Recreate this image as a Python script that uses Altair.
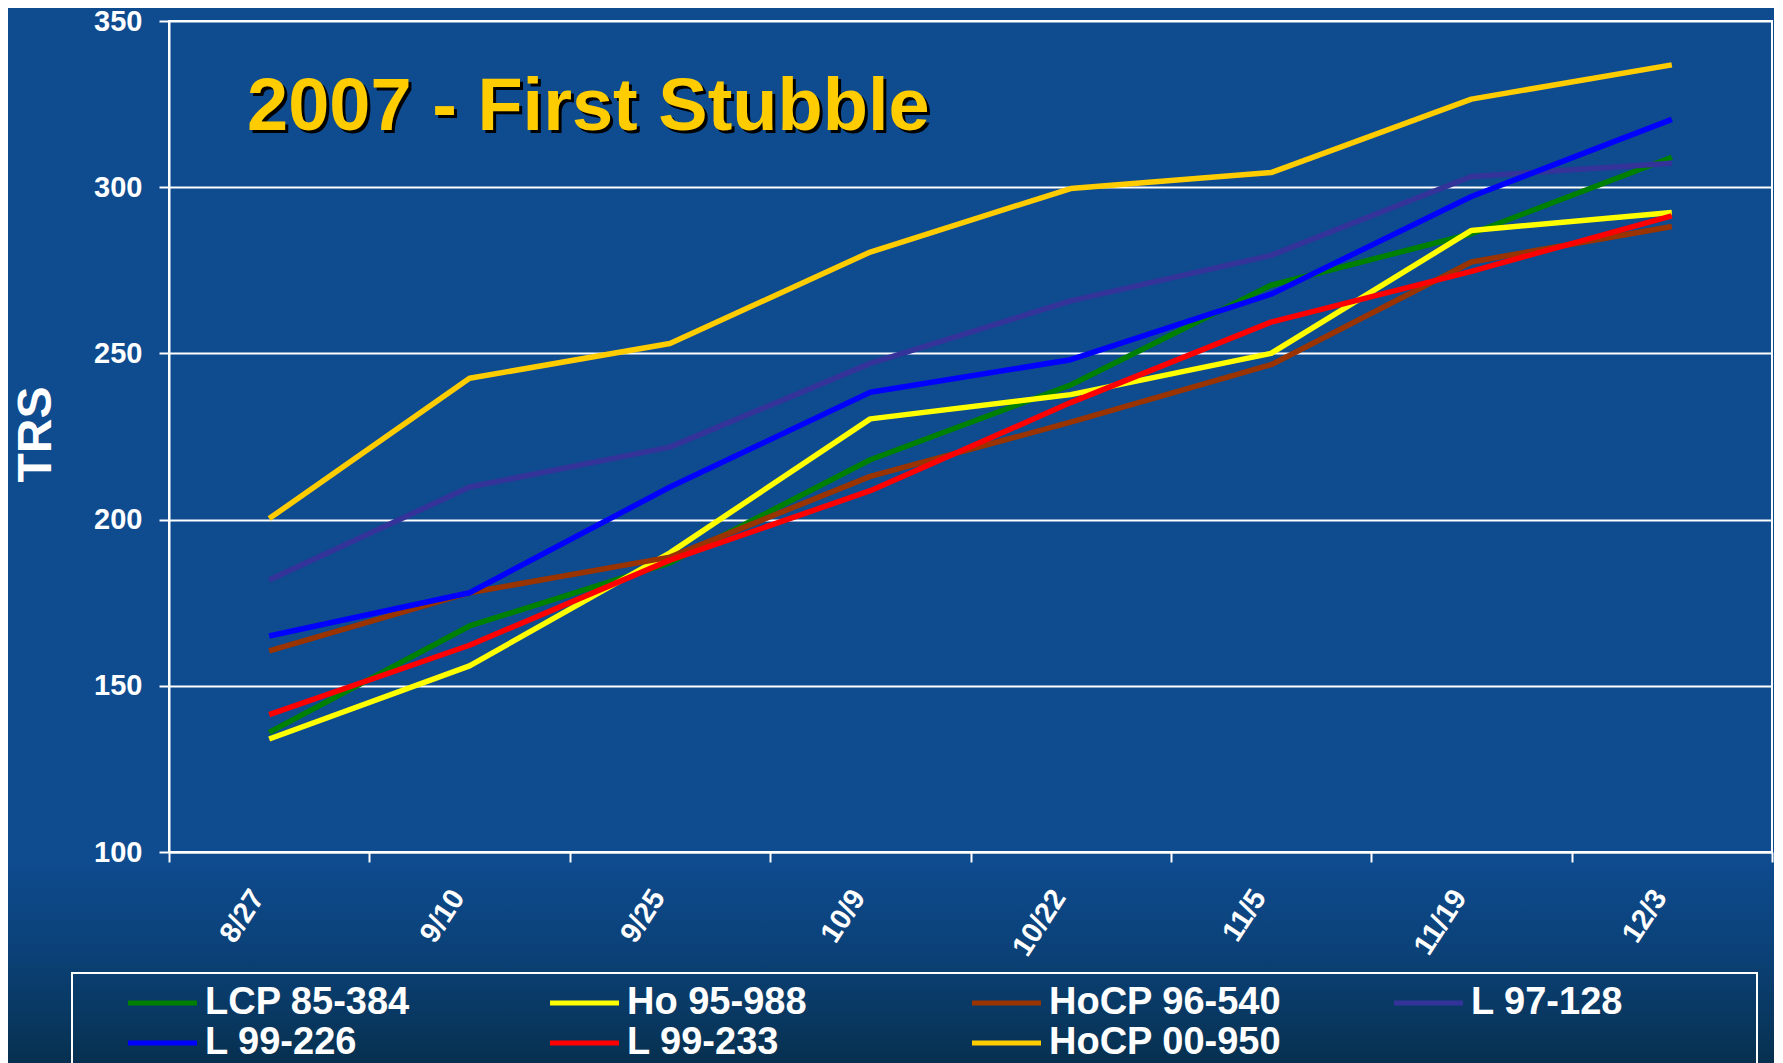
import altair as alt
import pandas as pd

# ---- data ----
dates = ["8/27", "9/10", "9/25", "10/9", "10/22", "11/5", "11/19", "12/3"]
varieties = ["LCP 85-384", "Ho 95-988", "HoCP 96-540", "L 97-128",
             "L 99-226", "L 99-233", "HoCP 00-950"]
colors = ["#008000", "#FFFF00", "#993300", "#333399",
          "#0000FF", "#FF0000", "#FFCC00"]

lcp_85_384 = [136, 168, 187, 218, 240.5, 270.5, 286, 309]
ho_95_988 = [134, 156, 190, 230.3, 237.6, 250, 287, 292.4]
hocp_96_540 = [160.5, 178, 188.7, 213, 229.3, 246.6, 277.5, 288.2]
l_97_128 = [181.8, 209.8, 221.8, 247, 265.8, 279.5, 303.2, 307.2]
l_99_226 = [165, 178, 209.8, 238.3, 248.1, 267.8, 297.2, 320.4]
l_99_233 = [141.3, 162.2, 187.8, 208.7, 235.2, 259.4, 274.7, 291.4]
hocp_00_950 = [200.3, 242.5, 253, 280.5, 299.6, 304.4, 326.5, 336.8]

series_values = [lcp_85_384, ho_95_988, hocp_96_540, l_97_128,
                 l_99_226, l_99_233, hocp_00_950]

y_ticks = [100, 150, 200, 250, 300, 350]
title_text = "2007 - First Stubble"
y_title = "TRS"

rows = []
for name, vals in zip(varieties, series_values):
    for d, v in zip(dates, vals):
        rows.append({"date": d, "variety": name, "trs": v})
df = pd.DataFrame(rows)

# ---- layout ----
FONT = "Liberation Sans, Arial, sans-serif"
W, H = 1603, 831
PAD = {"left": 161, "top": 13, "right": 2, "bottom": 211}

color_scale = alt.Scale(domain=varieties, range=colors)

# a long horizontal stroke drawn from a small nominal symbol box so that
# legend rows stay compact (path units are scaled by sqrt(size)/2 = 10px)
LEGEND_LINE = "M-1,0H5.9"

legend = alt.Legend(
    title=None,
    orient="none", legendX=-50, legendY=963,
    direction="horizontal", columns=4, gridAlign="all",
    symbolType=LEGEND_LINE, symbolSize=400, symbolStrokeWidth=5,
    labelFont=FONT, labelFontSize=38, labelFontWeight="bold",
    labelColor="white", labelOffset=48, labelLimit=1000,
    columnPadding=102, rowPadding=2, padding=0,
)

x_axis = alt.Axis(
    title=None, labelAngle=303, labelAlign="right", labelBaseline="middle",
    labelOffset=-12, labelPadding=30, labelOverlap=False,
    tickBand="extent", tickSize=10, tickWidth=2, tickColor="white",
    domainColor="white", domainWidth=2,
    labelColor="white", labelFont=FONT, labelFontSize=29,
    labelFontWeight="bold", grid=False, zindex=1,
)

y_axis = alt.Axis(
    values=y_ticks, title=y_title,
    titleFont=FONT, titleFontSize=48, titleFontWeight="bold",
    titleColor="white", titleX=-133, titleY=413, titleAngle=270,
    titleAlign="center", titleBaseline="middle",
    labelFont=FONT, labelFontSize=29, labelFontWeight="bold",
    labelColor="white", labelPadding=17,
    tickSize=10, tickWidth=2, tickColor="white",
    domainColor="white", domainWidth=2,
    gridColor="white", gridWidth=2, gridOpacity=1,
)

x_enc = alt.X("date:N", sort=dates,
              scale=alt.Scale(type="band", paddingInner=0, paddingOuter=0),
              axis=x_axis, bandPosition=0.5)
y_enc = alt.Y("trs:Q", scale=alt.Scale(domain=[100, 350], nice=False, zero=False),
              axis=y_axis)

one = pd.DataFrame({"a": [0]})

# darker band at the bottom of the slide (below the plot)
bg = alt.Chart(one).mark_rect(
    color=alt.LinearGradient(
        gradient="linear", x1=0, x2=0, y1=0, y2=1,
        stops=[alt.GradientStop(color="#0e4a8d", offset=0),
               alt.GradientStop(color="#0b4279", offset=0.4),
               alt.GradientStop(color="#093a66", offset=0.7),
               alt.GradientStop(color="#07304f", offset=1)],
    )
).encode(x=alt.value(-PAD["left"]), x2=alt.value(W + PAD["right"]),
         y=alt.value(H + 14), y2=alt.value(H + PAD["bottom"]))

# frame round the legend
legend_frame = alt.Chart(one).mark_rect(
    filled=False, stroke="white", strokeWidth=2
).encode(x=alt.value(-97), x2=alt.value(1588),
         y=alt.value(952), y2=alt.value(H + 260))

layers = [bg, legend_frame]
for name in varieties:
    layers.append(
        alt.Chart(df).transform_filter(alt.datum.variety == name)
        .mark_line(strokeWidth=5.5, strokeJoin="round")
        .encode(x=x_enc, y=y_enc,
                color=alt.Color("variety:N", scale=color_scale, legend=legend))
    )

title_df = pd.DataFrame({"t": [title_text]})
shadow = alt.Chart(title_df).mark_text(
    font=FONT, fontSize=74, fontWeight="bold", color="#000000",
    align="left", baseline="alphabetic"
).encode(text="t:N", x=alt.value(81), y=alt.value(112))
title = alt.Chart(title_df).mark_text(
    font=FONT, fontSize=74, fontWeight="bold", color="#FFCC00",
    align="left", baseline="alphabetic"
).encode(text="t:N", x=alt.value(78), y=alt.value(109))

layers += [shadow, title]

chart = alt.layer(*layers).properties(
    width=W, height=H,
    autosize=alt.AutoSizeParams(type="none"),
    padding=PAD,
).configure(
    background="#0e4b8f",
).configure_view(
    stroke="white", strokeWidth=2,
)

chart.save("out.html", embed_options={"renderer": "svg", "actions": False})
